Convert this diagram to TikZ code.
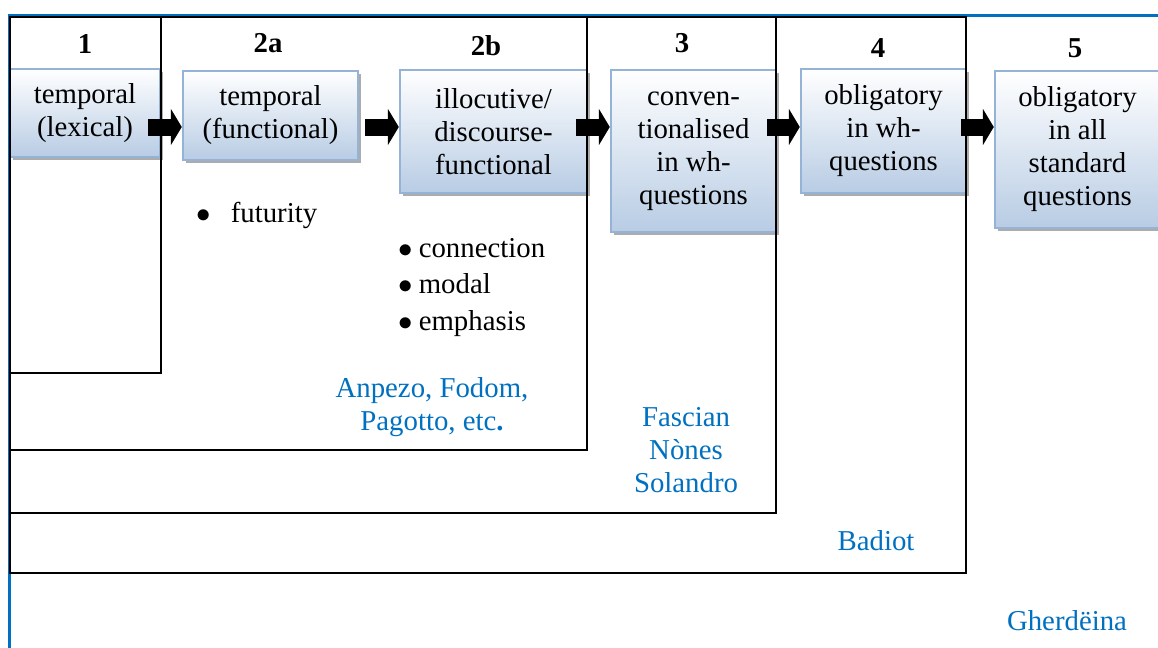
\documentclass[tikz,border=0pt]{standalone}
\usepackage{fontspec}
\setmainfont{Liberation Serif}
\usetikzlibrary{arrows.meta}
\usetikzlibrary{shadows}
\usetikzlibrary{calc}
\definecolor{mblue}{RGB}{0, 112, 192}
\definecolor{boxedge}{RGB}{149, 179, 215}
\definecolor{boxfill}{RGB}{184, 204, 228}
\tikzset{stage/.style = {draw=boxedge, line width=1.2pt, top color=white, bottom color=boxfill,
                         align=center, inner sep=0, font=\fontsize{14.4}{16.5}\selectfont,
                         drop shadow={shadow xshift=1.5pt, shadow yshift=-1.5pt, fill=gray!65, opacity=1}}}
\tikzset{num/.style = {anchor=base, inner sep=0, font=\fontsize{14.4}{16}\selectfont\bfseries}}
\tikzset{item/.style = {anchor=base west, inner sep=0, font=\fontsize{14.4}{16}\selectfont}}
\tikzset{dialect/.style = {mblue, align=center, inner sep=0, font=\fontsize{14.4}{16.5}\selectfont}}
\tikzset{fat/.style = {line width=8.5pt, -{Triangle[length=5.5pt, width=18pt]}}}
\tikzset{frame/.style = {line width=1pt}}

\begin{document}
\begin{tikzpicture}[x=0.5pt, y=-0.5pt]
    \useasboundingbox (0, 0) rectangle (1158, 648);

    \draw [mblue, line width=1.5pt] (9, 660) -- (9, 15) -- (1170, 15);

    \node [stage, minimum width=75pt, minimum height=44pt] (lexical) at (85, 113) {temporal\\(lexical)};
    \node [stage, minimum width=87.5pt, minimum height=44.5pt] (functional) at (270.5, 115.5) {temporal\\(functional)};
    \node [stage, minimum width=93.5pt, minimum height=61.5pt] (discourse) at (493.5, 131.5) {illocutive/\\discourse-\\functional};
    \node [stage, minimum width=82.5pt, minimum height=81pt] (convent) at (693.5, 151) {conven-\\tionalised\\in wh-\\questions};
    \node [stage, minimum width=82.5pt, minimum height=62pt] (whq) at (883.5, 131) {obligatory\\in wh-\\questions};
    \node [stage, minimum width=82.5pt, minimum height=78.5pt] (allq) at (1077.5, 149.5) {obligatory\\in all\\standard\\questions};

    \draw [frame] (10, 17) rectangle (161, 373);
    \draw [frame] (10, 17) rectangle (587, 450);
    \draw [frame] (10, 17) rectangle (776, 513);
    \draw [frame] (10, 17) rectangle (966, 573);

    \coordinate (row) at (0, 127);
    \draw [fat] ($(lexical.east |- row) + (-13, 0)$) -- (functional.west |- row);
    \draw [fat] ($(functional.east |- row) + (6, 0)$) -- (discourse.west |- row);
    \draw [fat] ($(discourse.east |- row) + (-12, 0)$) -- (convent.west |- row);
    \draw [fat] ($(convent.east |- row) + (-10, 0)$) -- (whq.west |- row);
    \draw [fat] ($(whq.east |- row) + (-6, 0)$) -- (allq.west |- row);

    \node [num] (n1) at (85, 54) {1};
    \node [num] (n2a) at (268, 53) {2a};
    \node [num] (n2b) at (486, 55) {2b};
    \node [num] (n3) at (682, 53) {3};
    \node [num] (n4) at (878, 57) {4};
    \node [num] (n5) at (1075, 57) {5};

    \node [item] (futurity) at (196, 222) {$\bullet$\hspace{10pt}futurity};
    \node [item] (connection) at (398, 257) {$\bullet$\hspace{3pt}connection};
    \node [item] (modal) at (398, 293) {$\bullet$\hspace{3pt}modal};
    \node [item] (emphasis) at (398, 330) {$\bullet$\hspace{3pt}emphasis};

    \node [dialect] (ampezzo) at (432, 407) {Anpezo, Fodom,\\Pagotto, etc\textbf{.}};
    \node [dialect] (fassa) at (686, 450) {Fascian\\Nònes\\Solandro};
    \node [dialect] (badiot) at (876, 541) {Badiot};
    \node [dialect] (gardena) at (1067, 621) {Gherdëina};
\end{tikzpicture}
\end{document}
